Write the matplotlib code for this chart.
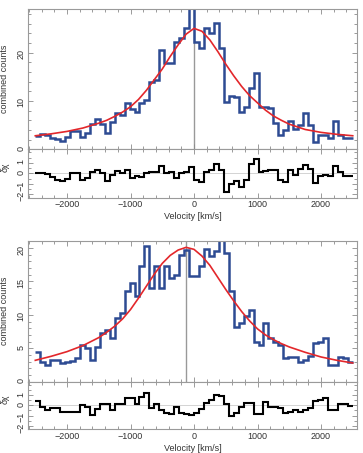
import numpy as np
import matplotlib
matplotlib.use("Agg")
import matplotlib.pyplot as plt
from matplotlib.ticker import MultipleLocator, FixedLocator

plt.rcParams['font.family'] = ['Liberation Sans', 'DejaVu Sans']

# 64 velocity bins between -2500 and 2500 km/s
bin_edges = np.linspace(-2500, 2500, 65)

# upper spectrum
counts_top = [2.75, 3.1, 2.9, 2.4, 2.05, 1.65, 2.5, 3.85, 3.85, 2.5, 3.3, 5.2, 6.3, 5.25, 3.45, 5.7,
              7.45, 7.1, 9.5, 8.3, 7.8, 9.65, 10.2, 14.0, 14.35, 20.55, 17.9, 17.9, 22.1, 23.0, 25.0, 29.8,
              22.1, 20.9, 25.0, 24.0, 26.1, 20.9, 9.85, 11.0, 10.9, 7.8, 8.8, 12.6, 15.7, 8.8,
              8.7, 8.5, 5.5, 3.0, 4.0, 5.9, 4.1, 5.0, 7.45, 5.0, 1.6, 3.0, 3.0, 2.3, 5.9, 3.0, 2.3, 2.3]
resid_top = [0.05, 0.05, -0.05, -0.3, -0.6, -0.7, -0.5, 0.0, 0.0, -0.65, -0.45, 0.15, 0.3, 0.0, -0.75, -0.15,
             0.25, 0.0, 0.35, -0.45, -0.25, -0.3, 0.0, 0.1, 0.1, 0.75, 0.05, 0.15, -0.4, 0.05, 0.15, 0.6,
             -0.65, -0.8, 0.15, 0.3, 0.9, 0.3, -1.8, -1.0, -0.75, -1.25, -0.6, 0.9, 1.35, 0.15,
             0.25, 0.35, 0.35, -0.65, -0.85, 0.3, -0.15, 0.45, 0.85, 0.45, -0.9, -0.25, -0.15, -0.25, 0.75, 0.1, -0.25, -0.25]
fit_v = [-2500, -2250, -2000, -1750, -1500, -1375, -1250, -1125, -1000, -875, -750, -625, -500, -375, -250, -125,
         0, 125, 250, 375, 500, 625, 750, 875, 1000, 1125, 1250, 1375, 1500, 1750, 2000, 2250, 2500]
fit_top = [2.8, 3.2, 3.7, 4.4, 5.4, 6.0, 6.8, 7.7, 8.8, 10.3, 12.2, 14.4, 16.6, 19.2, 21.6, 23.8,
           25.0, 24.4, 22.6, 20.2, 17.6, 15.2, 13.0, 11.1, 9.6, 8.1, 6.9, 6.0, 5.2, 4.1, 3.5, 3.1, 2.8]
vsys_top = 0

# lower spectrum
counts_bot = [4.5, 3.0, 2.5, 3.25, 3.25, 2.75, 3.0, 3.15, 3.5, 5.5, 5.0, 3.25, 5.25, 7.25, 7.75, 6.5,
              9.5, 10.25, 13.5, 14.75, 12.75, 17.35, 20.35, 14.0, 17.35, 14.0, 17.25, 15.5, 16.0, 19.0, 19.65, 15.75,
              15.75, 17.25, 19.85, 18.85, 19.5, 21.15, 19.25, 13.5, 8.25, 8.75, 9.85, 10.75, 6.0, 5.5,
              8.75, 6.5, 6.0, 5.5, 3.6, 3.75, 3.75, 3.0, 3.25, 3.85, 5.85, 6.0, 6.5, 2.5, 2.5, 3.75, 3.5, 3.0]
resid_bot = [0.4, -0.2, -0.5, -0.3, -0.3, -0.6, -0.6, -0.6, -0.6, 0.05, -0.2, -0.95, -0.35, 0.1, 0.1, -0.45,
             0.15, 0.15, 0.75, 0.75, 0.1, 0.85, 1.2, -0.3, 0.15, -0.45, -0.75, -0.8, -0.15, -0.75, -0.8, -0.95,
             -0.75, -0.35, 0.25, 0.55, 1.0, 0.95, 0.1, -1.0, -0.75, -0.2, 0.25, 0.25, -0.8, -0.8,
             0.35, -0.2, -0.2, -0.25, -0.75, -0.6, -0.5, -0.65, -0.45, -0.3, 0.45, 0.55, 0.75, -0.45, -0.45, 0.15, 0.1, -0.05]
fit_bot = [3.2, 3.8, 4.5, 5.4, 6.6, 7.4, 8.3, 9.4, 10.8, 12.5, 14.3, 16.1, 17.7, 18.9, 19.7, 20.1,
           19.8, 18.8, 17.4, 15.6, 13.8, 12.1, 10.5, 9.1, 7.9, 7.0, 6.3, 5.7, 5.2, 4.4, 3.7, 3.2, 2.8]
vsys_bot = -120

resid_ticks = [-2, -1, 0, 1]

BLUE = '#2d4b93'
RED = '#e3272b'


def style(ax, ymin):
    ax.set_xlim(-2610, 2570)
    ax.xaxis.set_major_locator(MultipleLocator(1000))
    ax.xaxis.set_minor_locator(MultipleLocator(200))
    ax.yaxis.set_minor_locator(MultipleLocator(ymin))
    ax.tick_params(which='both', direction='in', top=True, right=True,
                   color='#8a8a8a', labelcolor='#333333', labelsize=6.5, width=0.6, pad=2)
    ax.tick_params(which='major', length=3.5)
    ax.tick_params(which='minor', length=2)
    ax.tick_params(axis='y', labelrotation=90)
    for s in ax.spines.values():
        s.set_color('#9a9a9a')
        s.set_linewidth(0.8)


fig = plt.figure(figsize=(3.63, 4.53), dpi=100)
left, width = 0.078, 0.906

panels = [
    (counts_top, resid_top, fit_top, vsys_top, 29.0, 10, 2, 0.6704, 0.3097, 0.5640, 0.1064),
    (counts_bot, resid_bot, fit_bot, vsys_bot, 21.1, 5, 1, 0.1574, 0.3113, 0.0530, 0.1044),
]

for counts, resid, fit, vsys, ytop, ymaj, ymin, b_main, h_main, b_res, h_res in panels:
    ax = fig.add_axes([left, b_main, width, h_main])
    ax.axvline(vsys, color='#999999', lw=1.0, zorder=1)
    ax.stairs(counts, bin_edges, baseline=None, color=BLUE, lw=1.8, zorder=2)
    ax.plot(fit_v, fit, color=RED, lw=1.2, zorder=3)
    ax.set_ylim(0, ytop)
    ax.yaxis.set_major_locator(MultipleLocator(ymaj))
    style(ax, ymin)
    ax.tick_params(labelbottom=False)
    ax.set_ylabel('combined counts', fontsize=6.5, color='#333333')
    ax.yaxis.set_label_coords(-0.058, 0.5)

    rx = fig.add_axes([left, b_res, width, h_res])
    rx.axhline(0, color='#cccccc', lw=0.6, zorder=1)
    rx.stairs(resid, bin_edges, baseline=None, color='black', lw=1.5, zorder=2)
    rx.set_ylim(-2.3, 2.3)
    rx.yaxis.set_major_locator(FixedLocator(resid_ticks))
    style(rx, 0.5)
    rx.set_ylabel('δχ', fontsize=6.5, color='#333333')
    rx.yaxis.set_label_coords(-0.058, 0.62)
    rx.set_xlabel('Velocity [km/s]', fontsize=6.5, color='#333333', labelpad=2)

fig.savefig('out.png', dpi=100)
